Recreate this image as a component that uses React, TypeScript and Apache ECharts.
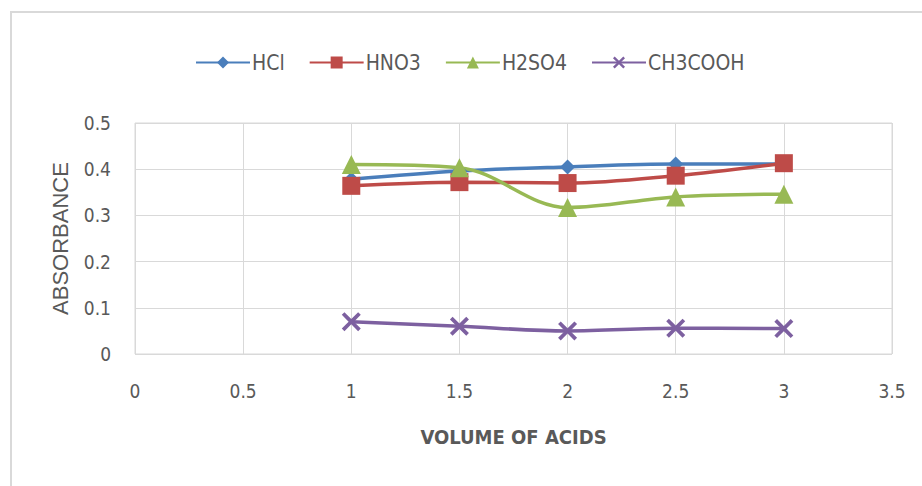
import React, { useEffect, useRef } from "react";
import * as echarts from "echarts";

const volumes = [1, 1.5, 2, 2.5, 3];
const hcl = [0.378, 0.396, 0.405, 0.411, 0.411];
const hno3 = [0.364, 0.372, 0.37, 0.386, 0.413];
const h2so4 = [0.41, 0.403, 0.317, 0.34, 0.346];
const ch3cooh = [0.07, 0.06, 0.05, 0.056, 0.055];
const seriesNames = ["HCl", "HNO3", "H2SO4", "CH3COOH"];

const COND = "'Liberation Sans Narrow', 'DejaVu Sans Condensed', 'Roboto Condensed', 'Arial Narrow', sans-serif";
const XSYM = "path://M0,1.4L1.4,0L5,3.6L8.6,0L10,1.4L6.4,5L10,8.6L8.6,10L5,6.4L1.4,10L0,8.6L3.6,5Z";

export default function App() {
  const ref = useRef<HTMLDivElement>(null);
  useEffect(() => {
    if (!ref.current) return;
    const chart = echarts.init(ref.current, undefined, { renderer: "svg" });
    const pair = (ys: number[]) => volumes.map((v, i) => [v, ys[i]]);
    const mk = (name: string, ys: number[], color: string, symbol: string, size: number) => ({
      name,
      type: "line",
      data: pair(ys),
      smooth: 0.35,
      symbol,
      symbolSize: size,
      lineStyle: { color, width: 3.5 },
      itemStyle: { color },
      z: 3,
    });
    chart.setOption({
      animation: false,
      backgroundColor: "#ffffff",
      graphic: [
        {
          type: "rect",
          shape: { x: 11, y: 12, width: 940, height: 500 },
          style: { fill: "none", stroke: "#d9d9d9", lineWidth: 2 },
          silent: true,
        },
      ],
      legend: {
        top: 47,
        left: 190,
        itemWidth: 54,
        itemHeight: 15,
        itemGap: 24,
        textStyle: { fontFamily: COND, fontSize: 21, color: "#595959", padding: [0, 0, 0, -3] },
        data: seriesNames,
      },
      grid: {
        left: 135,
        right: 30,
        top: 123,
        bottom: 132,
        show: true,
        borderColor: "#d9d9d9",
        borderWidth: 1,
      },
      xAxis: {
        type: "value",
        min: 0,
        max: 3.5,
        interval: 0.5,
        name: "VOLUME OF ACIDS",
        nameLocation: "middle",
        nameGap: 73,
        nameTextStyle: { fontFamily: COND, fontSize: 20, fontWeight: "bold", color: "#595959" },
        axisLine: { show: false },
        axisTick: { show: false },
        axisLabel: { fontFamily: COND, fontSize: 19, color: "#595959", margin: 27 },
        splitLine: { show: true, lineStyle: { color: "#d9d9d9", width: 1 } },
      },
      yAxis: {
        type: "value",
        min: 0,
        max: 0.5,
        interval: 0.1,
        name: "ABSORBANCE",
        nameLocation: "middle",
        nameGap: 64,
        nameTextStyle: { fontFamily: "'Liberation Sans', Arial, sans-serif", fontSize: 22, color: "#595959" },
        axisLine: { show: false },
        axisTick: { show: false },
        axisLabel: { fontFamily: COND, fontSize: 19, color: "#595959", margin: 24 },
        splitLine: { show: true, lineStyle: { color: "#d9d9d9", width: 1 } },
      },
      series: [
        mk("HCl", hcl, "#4a7ebb", "diamond", 15),
        mk("HNO3", hno3, "#be4b48", "rect", 18),
        mk("H2SO4", h2so4, "#98b954", "triangle", 19),
        mk("CH3COOH", ch3cooh, "#7d60a0", XSYM, 19),
      ],
    });
    return () => chart.dispose();
  }, []);
  return (
    <div
      ref={ref}
      style={{ position: "fixed", left: 0, top: 0, width: 922, height: 486, background: "#fff" }}
    />
  );
}
